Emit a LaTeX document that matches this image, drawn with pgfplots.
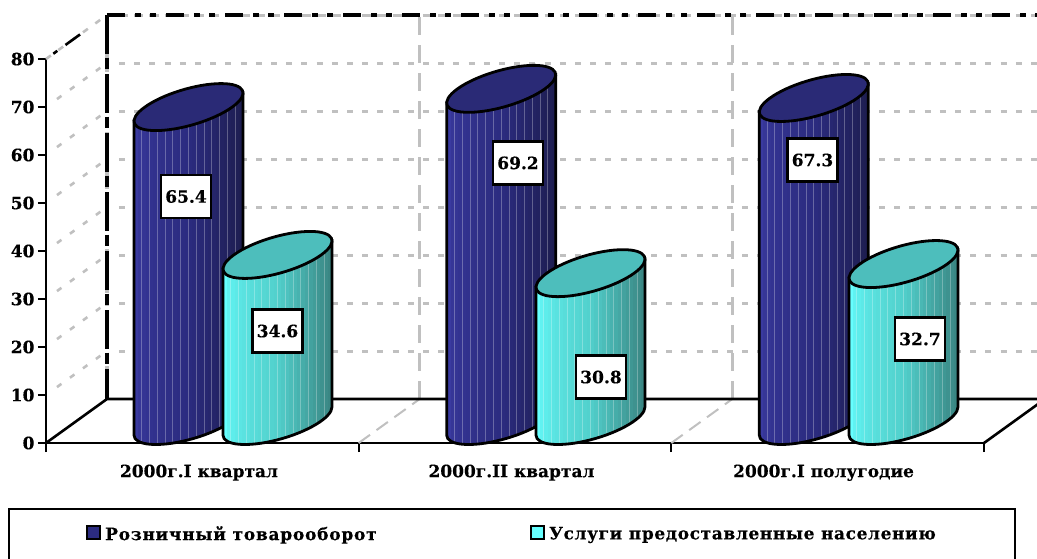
\documentclass[border=0pt]{standalone}
\usepackage{fontspec}
\setmainfont{DejaVu Serif}[BoldFeatures={FakeBold=0.35}]
\newfontfamily\legfont[LetterSpace=4.5,BoldFeatures={FakeBold=0.35}]{DejaVu Serif}
\newfontfamily\legfontb[LetterSpace=3.6,BoldFeatures={FakeBold=0.35}]{DejaVu Serif}
\usepackage{pgfplots}
\usepackage{pgfplotstable}
\pgfplotsset{compat=1.18}

\definecolor{blL}{RGB}{58,58,160}
\definecolor{blM}{RGB}{44,44,128}
\definecolor{blR}{RGB}{30,30,82}
\definecolor{blT}{RGB}{42,42,118}
\definecolor{teL}{RGB}{102,255,255}
\definecolor{teM}{RGB}{82,208,204}
\definecolor{teR}{RGB}{58,135,132}
\definecolor{teT}{RGB}{77,190,188}
\definecolor{gridg}{RGB}{192,192,192}

\newcommand\cylpath{%
  \pgfpathmoveto{\pgfpoint{-54.5pt}{8.0pt}}%
  \pgfpathlineto{\pgfpoint{54.5pt}{36.05pt}}%
  \pgfpathlineto{\pgfpoint{54.5pt}{\yb pt+14.05pt}}%
  \pgfpatharcaxes{36.72}{-143.28}{\pgfpoint{43.7pt}{0pt}}{\pgfpoint{32.6pt}{23.5pt}}%
  \pgfpathclose}
\newcommand\drawcyl[4]{%
  \pgfmathsetmacro\yb{22-\h}%
  \begin{pgfscope}%
    \cylpath\pgfusepath{clip}%
    \foreach \i in {0,...,27}{%
      \pgfmathsetmacro\pp{\i/27}%
      \pgfmathsetmacro\xx{-54.5+\i*109/28}%
      \pgfmathparse{\pp<0.5?1:0}%
      \ifnum\pgfmathresult=1
        \pgfmathsetmacro\q{100*sqrt(2*\pp)}\colorlet{cc}{#2!\q!#1}%
      \else
        \pgfmathsetmacro\q{200*(\pp-0.5)}\colorlet{cc}{#3!\q!#2}%
      \fi
      \pgfsetfillcolor{cc}%
      \pgfpathrectangle{\pgfpoint{\xx pt}{-500pt}}{\pgfpoint{4.4pt}{700pt}}\pgfusepath{fill}%
      \pgfmathparse{mod(\i,2)}%
      \ifdim\pgfmathresult pt=0pt
        \colorlet{ll}{cc!72!white}\pgfsetstrokecolor{ll}\pgfsetlinewidth{0.9pt}%
        \pgfpathmoveto{\pgfpoint{\xx pt}{-500pt}}\pgfpathlineto{\pgfpoint{\xx pt}{200pt}}\pgfusepath{stroke}%
      \fi
    }%
  \end{pgfscope}%
  \pgfsetstrokecolor{black}\pgfsetlinewidth{2.8pt}\pgfsetdash{}{0pt}%
  \cylpath\pgfusepath{stroke}%
  \pgfsetfillcolor{#4}%
  \pgfpathellipse{\pgfpoint{0pt}{22pt}}{\pgfpoint{43.7pt}{0pt}}{\pgfpoint{32.6pt}{23.5pt}}%
  \pgfusepath{fill,stroke}%
}
\pgfdeclareplotmark{cylblue}{\drawcyl{blL}{blM}{blR}{blT}}
\pgfdeclareplotmark{cylteal}{\drawcyl{teL}{teM}{teR}{teT}}

\pgfplotstableread{
x v
188.5 65.4
501.2 69.2
813.8 67.3
}\retail
\pgfplotstableread{
x v
277.5 34.6
590.5 30.8
903.5 32.7
}\services

\tikzset{
  gdash/.style={draw=gridg,line width=3pt,dash pattern=on 6pt off 9.2pt},
  gdiag/.style={draw=gridg,line width=2.6pt,dash pattern=on 5.5pt off 10.5pt},
  bdashdot/.style={draw=black,line width=3.2pt,dash pattern=on 18pt off 10pt on 6pt off 9pt on 6pt off 10pt},
  vlab/.style={draw=black,fill=white,line width=2.3pt,minimum width=50pt,minimum height=43pt,inner sep=0pt,font=\bfseries\fontsize{17}{20}\selectfont},
}

\begin{document}
\begin{tikzpicture}[x=1pt,y=1pt]
\useasboundingbox (-46,-115) rectangle (991,443);
\begin{axis}[
  at={(0pt,0pt)},anchor=south west,
  scale only axis,width=938pt,height=384pt,
  xmin=46,xmax=984,ymin=0,ymax=80,
  clip=false,
  axis lines=left,
  axis line style={-,line width=2.5pt,black},
  xtick={199,511.5,823.5},
  xticklabels={2000г.I квартал,2000г.II квартал,2000г.I полугодие},
  minor xtick={46,358.67,671.33,984},
  major x tick style={draw=none},
  minor x tick style={black,line width=2pt},
  ytick={0,10,...,80},
  y tick style={black,line width=2.5pt},
  tick align=outside,
  major tick length=8pt,
  minor tick length=9pt,
  tick label style={font=\bfseries\fontsize{17}{20}\selectfont},
  /pgf/number format/assume math mode=true,
  xticklabel style={yshift=-10pt},
  yticklabel style={xshift=0pt},
  legend columns=2,
  legend cell align=left,
  legend style={at={(axis cs:8,-13.54)},anchor=north west,draw=black,line width=2.4pt,
    inner xsep=77pt,inner ysep=15pt,font=\bfseries\fontsize{17}{20}\selectfont,
    nodes={text depth=12pt},
    /tikz/every odd column/.append style={column sep=2pt},
    /tikz/every even column/.append style={column sep=151.5pt}},
  after end axis/.code={
    \node[vlab] at (axis cs:186,51.35) {65.4};
    \node[vlab] at (axis cs:518,58.35) {69.2};
    \node[vlab] at (axis cs:812.5,58.96) {67.3};
    \node[vlab] at (axis cs:277.5,23.33) {34.6};
    \node[vlab] at (axis cs:601,13.75) {30.8};
    \node[vlab] at (axis cs:920,21.67) {32.7};
  },
]
% back wall grid and side wall grid
\pgfplotsinvokeforeach{10,20,30,40,50,60,70,80}{
  \draw[gdash] (axis cs:119,#1+9.1667) -- (axis cs:1045,#1+9.1667);
}
\pgfplotsinvokeforeach{10,20,30,40,50,60,70}{
  \draw[gdiag] (axis cs:57,#1+1.653) -- (axis cs:101,#1+8.265);
}
% back wall dividers and floor dividers
\pgfplotsinvokeforeach{419.67,732.33}{
  \draw[draw=gridg,line width=3pt,dash pattern=on 18pt off 10pt] (axis cs:#1,88.75) -- (axis cs:#1,9.1667);
}
\draw[gdiag,dash pattern=on 14pt off 8pt,line width=2pt] (axis cs:358.67,0) -- (axis cs:419.67,9.1667);
\draw[gdiag,dash pattern=on 14pt off 8pt,line width=2pt] (axis cs:671.33,0) -- (axis cs:732.33,9.1667);
% frame of the walls
\draw[gdash] (axis cs:107,89.1667) -- (axis cs:1045,89.1667);
\draw[bdashdot] (axis cs:107,89.1667) -- (axis cs:1045,89.1667);
\draw[gdash,line width=2.6pt] (axis cs:46,80) -- (axis cs:107,89.1667);
\draw[black,line width=2.6pt,dash pattern=on 0pt off 9pt on 5pt off 10pt on 18pt off 60pt] (axis cs:46,80) -- (axis cs:107,89.1667);
\draw[gdash,line width=3.3pt,dash pattern=on 5pt off 8pt] (axis cs:107,89.1667) -- (axis cs:107,9.1667);
\draw[black,line width=3.3pt,dash pattern=on 39pt off 3.5pt on 11.5pt off 5pt] (axis cs:107,89.1667) -- (axis cs:107,9.1667);
\draw[black,line width=2.6pt] (axis cs:46,0) -- (axis cs:107,9.1667) -- (axis cs:1045,9.1667);
\draw[black,line width=2.6pt] (axis cs:984,0) -- (axis cs:1045,9.1667);

\addplot[forget plot,scatter,only marks,mark=cylblue,
  visualization depends on={\thisrow{v}*4.8\as\h}] table[x=x,y=v] {\retail};
\addplot[forget plot,scatter,only marks,mark=cylteal,
  visualization depends on={\thisrow{v}*4.8\as\h}] table[x=x,y=v] {\services};

\addlegendimage{legend image code/.code={\draw[fill=blM,draw=black,line width=2pt] (0pt,0pt) rectangle (13pt,13pt);}}
\addlegendentry{\legfont\bfseries Розничный товарооборот}
\addlegendimage{legend image code/.code={\draw[fill=teL,draw=black,line width=2pt] (0pt,0pt) rectangle (13pt,13pt);}}
\addlegendentry{\legfontb\bfseries Услуги предоставленные населению}
\end{axis}
\end{tikzpicture}
\end{document}
